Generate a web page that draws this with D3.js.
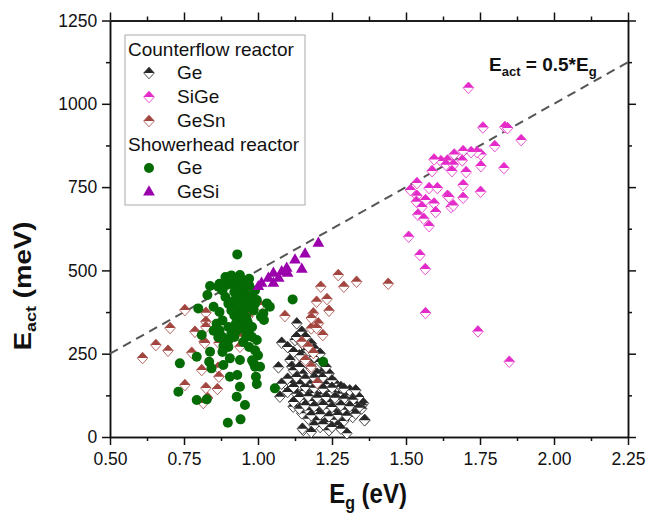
<!DOCTYPE html>
<html>
<head>
<meta charset="utf-8">
<script src="https://cdn.jsdelivr.net/npm/d3@7"></script>
<style>
  body { margin: 0; background: #fff; }
  text { font-family: "Liberation Sans", Arial, sans-serif; fill: #111; }
</style>
</head>
<body>
<svg id="chart" width="661" height="517"></svg>
<script>
// [Eg (eV), Eact (meV)]
var counterflowGe = [
  [1.131, 341], [1.148, 316], [1.08, 283], [1.125, 291], [1.069, 209], [1.108, 231], [1.114, 211],
  [1.097, 156], [1.074, 121], [1.119, 91], [1.148, 71], [1.153, 21], [1.30, 11], [1.356, 101],
  [1.361, 51], [1.311, 131], [1.26, 161], [1.22, 196], [1.181, 221], [1.153, 251],
  [1.08, 160], [1.11, 162], [1.14, 158], [1.17, 160], [1.20, 163], [1.23, 158], [1.26, 160],
  [1.10, 135], [1.13, 130], [1.16, 138], [1.19, 132], [1.22, 128], [1.25, 135], [1.28, 130], [1.31, 125],
  [1.12, 105], [1.15, 112], [1.18, 108], [1.21, 110], [1.24, 104], [1.27, 112], [1.30, 108], [1.33, 100], [1.35, 95],
  [1.14, 85], [1.17, 80], [1.20, 78], [1.23, 85], [1.26, 75], [1.29, 82], [1.32, 78], [1.35, 85],
  [1.17, 55], [1.20, 50], [1.23, 45], [1.26, 52], [1.29, 48], [1.32, 60], [1.36, 50],
  [1.15, 25], [1.21, 30], [1.24, 20], [1.27, 35],
  [1.13, 300], [1.15, 280], [1.17, 260], [1.19, 240], [1.21, 225], [1.14, 245], [1.16, 225], [1.18, 205],
  [1.20, 190], [1.22, 180], [1.12, 200], [1.15, 190], [1.24, 190], [1.13, 180], [1.25, 170], [1.28, 150],
  [1.31, 140], [1.34, 120],
  [1.12, 150], [1.16, 150], [1.19, 148], [1.22, 145], [1.25, 148], [1.29, 145], [1.33, 140],
  [1.14, 120], [1.17, 122], [1.20, 118], [1.23, 120], [1.26, 118], [1.29, 115], [1.32, 112],
  [1.16, 95], [1.19, 92], [1.22, 96], [1.25, 90], [1.28, 95], [1.31, 92], [1.34, 88],
  [1.18, 65], [1.21, 68], [1.24, 62], [1.27, 66], [1.30, 64], [1.33, 70],
  [1.19, 35], [1.22, 38], [1.25, 30], [1.28, 25], [1.18, 15], [1.10, 175], [1.12, 255],
  [1.10, 270], [1.16, 300], [1.18, 280], [1.19, 265], [1.23, 210], [1.21, 250], [1.14, 210],
  [1.16, 175], [1.19, 178]
];

var counterflowSiGe = [
  [1.711, 1048], [1.76, 929], [1.834, 930], [1.843, 927], [1.889, 891], [1.80, 873], [1.753, 848],
  [1.74, 855], [1.72, 855], [1.693, 858], [1.663, 848], [1.64, 830], [1.618, 828], [1.595, 833],
  [1.635, 817], [1.66, 817], [1.69, 830], [1.753, 813], [1.703, 795], [1.831, 807], [1.588, 798],
  [1.655, 798], [1.578, 747], [1.606, 747], [1.537, 762], [1.515, 741], [1.693, 756], [1.752, 736],
  [1.64, 724], [1.645, 720], [1.693, 718], [1.537, 724], [1.566, 711], [1.535, 706], [1.595, 701],
  [1.60, 675], [1.554, 690], [1.652, 690], [1.66, 695], [1.54, 667], [1.56, 655], [1.578, 633],
  [1.509, 601], [1.547, 546], [1.565, 504], [1.566, 372], [1.743, 317], [1.849, 226]
];

var counterflowGeSn = [
  [0.753, 381], [0.824, 373], [0.703, 327], [0.824, 346], [0.824, 330], [0.787, 316], [0.818, 286],
  [0.655, 276], [0.696, 259], [0.776, 253], [0.61, 237], [0.81, 201], [0.865, 208], [0.868, 181],
  [0.863, 144], [0.824, 147], [0.753, 156], [0.815, 102], [0.83, 117], [0.939, 271], [0.966, 361],
  [1.007, 396], [0.939, 301], [0.868, 282], [0.82, 282],
  [1.271, 486], [1.212, 451], [1.29, 451], [1.333, 466], [1.198, 406], [1.233, 414], [1.24, 379],
  [1.187, 371], [1.091, 363], [1.204, 341], [1.18, 326], [1.219, 306], [1.148, 286], [1.18, 357],
  [1.198, 327], [1.44, 460],
  [1.17, 271], [1.187, 252], [1.16, 231], [1.18, 211], [1.20, 162]
];

var showerheadGe = [
  [0.93, 548], [0.939, 486], [0.838, 453], [0.866, 451], [0.894, 456], [0.829, 426], [0.85, 391],
  [0.798, 386], [0.996, 411], [1.03, 401], [1.01, 361], [1.02, 351], [0.85, 319], [0.81, 306],
  [0.866, 299], [0.883, 273], [0.838, 256], [0.793, 241], [0.736, 221], [0.835, 226], [0.843, 206],
  [0.883, 216], [0.905, 236], [0.939, 231], [0.99, 211], [0.993, 181], [0.996, 159], [0.905, 181],
  [0.93, 186], [0.939, 151], [0.928, 121], [0.956, 96], [0.941, 53], [0.898, 43], [0.731, 136],
  [0.793, 111], [0.827, 113], [1.117, 413], [1.04, 391], [1.018, 371], [0.996, 291], [0.985, 222],
  [1.007, 211], [1.057, 146], [1.22, 226],
  [0.90, 470], [0.91, 460], [0.92, 455], [0.93, 450], [0.94, 445], [0.95, 440], [0.96, 430],
  [0.92, 435], [0.93, 425], [0.94, 415], [0.95, 405], [0.96, 400], [0.92, 410], [0.91, 395],
  [0.93, 390], [0.94, 380], [0.95, 370], [0.92, 365], [0.93, 355], [0.96, 360], [0.97, 390],
  [0.98, 420], [0.99, 440], [0.97, 455], [0.88, 440], [0.89, 420], [0.90, 400], [0.91, 380],
  [0.94, 340], [0.95, 330], [0.96, 320], [0.97, 310], [0.98, 300], [0.93, 320], [0.92, 300],
  [0.90, 290], [0.88, 300], [0.87, 320], [0.86, 340], [0.95, 285], [0.97, 270], [0.99, 260],
  [1.00, 245], [0.98, 230], [0.90, 270], [0.88, 255],
  [0.87, 460], [0.89, 480], [0.91, 485], [0.95, 470], [0.97, 475], [0.93, 470], [0.95, 455],
  [0.97, 420], [0.99, 400], [0.985, 380], [0.965, 345], [0.98, 330], [0.96, 300], [0.87, 375],
  [0.88, 350], [0.90, 330], [0.91, 310], [0.94, 395], [0.925, 340], [0.945, 360]
];

var showerheadGeSi = [
  [1.204, 581], [1.159, 549], [1.125, 531], [1.148, 503], [1.097, 506], [1.08, 496], [1.052, 491],
  [1.035, 476], [1.052, 461], [1.012, 461], [1.001, 451], [1.10, 491], [1.07, 476]
];

var xTicks = [0.5, 0.75, 1.0, 1.25, 1.5, 1.75, 2.0, 2.25];
var xMinor = [0.625, 0.875, 1.125, 1.375, 1.625, 1.875, 2.125];
var yTicks = [0, 250, 500, 750, 1000, 1250];
var yMinor = [125, 375, 625, 875, 1125];
var fitLine = [[0.5, 250], [2.25, 1125]];

var colors = {
  ge: '#262626',
  sige: '#e42ac8',
  gesn: '#a3453f',
  green: '#056b05',
  purple: '#9a00ac'
};

var svg = d3.select('#chart');
var x = d3.scaleLinear().domain([0.5, 2.25]).range([110, 628]);
var y = d3.scaleLinear().domain([0, 1250]).range([437, 20.5]);

// axes, ticks pointing outward on all four sides
function addAxis(axisFn, scale, ticks, size, fmt, transform) {
  var a = axisFn(scale).tickValues(ticks).tickSize(size).tickSizeOuter(0)
    .tickFormat(fmt ? d3.format(fmt) : '');
  var g = svg.append('g').attr('transform', transform).call(a);
  g.selectAll('line').attr('stroke', '#111').attr('stroke-width', 1.5);
  g.select('.domain').attr('stroke', '#111').attr('stroke-width', 1.5);
  g.selectAll('text').attr('font-size', 17.5).attr('fill', '#222')
    .style('font-family', '"Liberation Sans", Arial, sans-serif');
  return g;
}

addAxis(d3.axisBottom, x, xTicks, 8, '.2f', 'translate(0,437)')
  .selectAll('text').attr('dy', '0.95em');
addAxis(d3.axisBottom, x, xMinor, 4, null, 'translate(0,437)');
addAxis(d3.axisTop, x, xTicks, 8, null, 'translate(0,20.5)');
addAxis(d3.axisTop, x, xMinor, 4, null, 'translate(0,20.5)');
addAxis(d3.axisLeft, y, yTicks, 8, 'd', 'translate(110,0)').selectAll('text').attr('dx', '-0.1em');
addAxis(d3.axisLeft, y, yMinor, 4, null, 'translate(110,0)');
addAxis(d3.axisRight, y, yTicks, 8, null, 'translate(628,0)');
addAxis(d3.axisRight, y, yMinor, 4, null, 'translate(628,0)');

// Eact = 0.5*Eg guide
svg.append('path')
  .attr('d', d3.line().x(function(d) { return x(d[0]); }).y(function(d) { return y(d[1]); })(fitLine))
  .attr('fill', 'none')
  .attr('stroke', '#555')
  .attr('stroke-width', 2)
  .attr('stroke-dasharray', '9,6');

// half-filled diamond: coloured top, white bottom
var dw = 5.3, dh = 5.8;
var diamondPath = 'M0,' + (-dh) + 'L' + dw + ',0L0,' + dh + 'L' + (-dw) + ',0Z';
var topHalfPath = 'M0,' + (-dh) + 'L' + dw + ',0L' + (-dw) + ',0Z';

function halfDiamond(sel, color) {
  sel.append('path').attr('d', diamondPath)
    .attr('fill', '#fff').attr('stroke', color).attr('stroke-width', 1).attr('stroke-opacity', 0.8);
  sel.append('path').attr('d', topHalfPath).attr('fill', color);
}

function diamonds(data, color) {
  var g = svg.append('g');
  g.selectAll('g').data(data).enter().append('g')
    .attr('transform', function(d) { return 'translate(' + x(d[0]) + ',' + y(d[1]) + ')'; })
    .call(halfDiamond, color);
}

diamonds(counterflowGe, colors.ge);
diamonds(counterflowSiGe, colors.sige);
diamonds(counterflowGeSn, colors.gesn);

svg.append('g').selectAll('circle').data(showerheadGe).enter().append('circle')
  .attr('cx', function(d) { return x(d[0]); })
  .attr('cy', function(d) { return y(d[1]); })
  .attr('r', 5)
  .attr('fill', colors.green);

var tri = d3.symbol().type(d3.symbolTriangle).size(60);
svg.append('g').selectAll('path').data(showerheadGeSi).enter().append('path')
  .attr('d', tri)
  .attr('transform', function(d) { return 'translate(' + x(d[0]) + ',' + y(d[1]) + ')'; })
  .attr('fill', colors.purple);

// annotation
var ann = svg.append('text').attr('x', 489).attr('y', 71)
  .attr('font-size', 19).attr('font-weight', 'bold');
ann.append('tspan').text('E');
ann.append('tspan').text('act').attr('font-size', 13).attr('dy', 5);
ann.append('tspan').text(' = 0.5*E').attr('dy', -5);
ann.append('tspan').text('g').attr('font-size', 13).attr('dy', 5);

// axis titles
var xt = svg.append('text')
  .attr('transform', 'translate(368,503) scale(1,1.18)')
  .attr('text-anchor', 'middle').attr('font-size', 24).attr('font-weight', 'bold');
xt.append('tspan').text('E');
xt.append('tspan').text('g').attr('font-size', 16).attr('dy', 5);
xt.append('tspan').text(' (eV)').attr('dy', -5);

var yt = svg.append('text')
  .attr('transform', 'translate(31,286) rotate(-90) scale(1.2,1)')
  .attr('text-anchor', 'middle').attr('font-size', 23).attr('font-weight', 'bold');
yt.append('tspan').text('E');
yt.append('tspan').text('act').attr('font-size', 15).attr('dy', 5);
yt.append('tspan').text(' (meV)').attr('dy', -5);

// legend
var lg = svg.append('g');
lg.append('rect').attr('x', 125).attr('y', 35).attr('width', 180).attr('height', 170)
  .attr('fill', '#fff').attr('stroke', '#aaa').attr('stroke-width', 1);

var legendRows = [
  { label: 'Counterflow reactor', header: true, yy: 56 },
  { label: 'Ge', kind: 'diamond', color: colors.ge, yy: 79 },
  { label: 'SiGe', kind: 'diamond', color: colors.sige, yy: 103 },
  { label: 'GeSn', kind: 'diamond', color: colors.gesn, yy: 127 },
  { label: 'Showerhead reactor', header: true, yy: 151 },
  { label: 'Ge', kind: 'circle', color: colors.green, yy: 174 },
  { label: 'GeSi', kind: 'triangle', color: colors.purple, yy: 198 }
];

legendRows.forEach(function(r) {
  lg.append('text').attr('x', r.header ? 128 : 177).attr('y', r.yy)
    .attr('font-size', 19).text(r.label);
  if (r.header) return;
  var m = lg.append('g').attr('transform', 'translate(149,' + (r.yy - 6) + ')');
  if (r.kind === 'diamond') m.call(halfDiamond, r.color);
  else if (r.kind === 'circle') m.append('circle').attr('r', 5).attr('fill', r.color);
  else m.append('path').attr('d', tri).attr('fill', r.color);
});
</script>
</body>
</html>
